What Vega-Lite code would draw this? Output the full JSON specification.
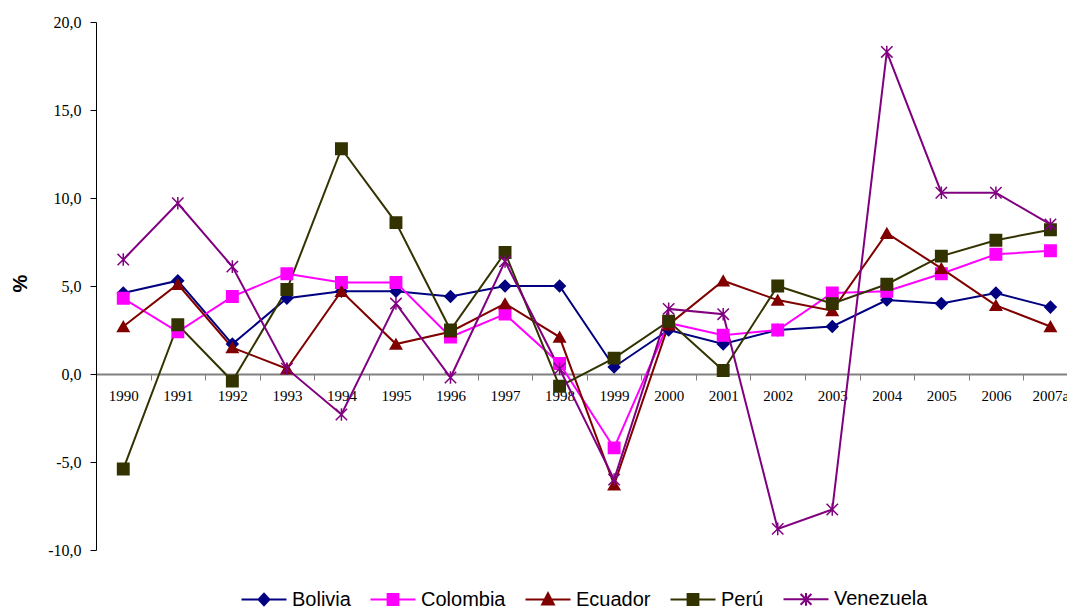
{
  "$schema": "https://vega.github.io/schema/vega-lite/v6.json",
  "width": 971,
  "height": 528,
  "autosize": {"type": "none"},
  "padding": {"left": 96, "top": 22, "right": 0, "bottom": 58},
  "background": "white",
  "config": {"view": {"stroke": null}},
  "data": {"values": [
    {"year":"1990","country":"Bolivia","value":4.6},{"year":"1991","country":"Bolivia","value":5.3},{"year":"1992","country":"Bolivia","value":1.7},{"year":"1993","country":"Bolivia","value":4.3},{"year":"1994","country":"Bolivia","value":4.7},{"year":"1995","country":"Bolivia","value":4.7},{"year":"1996","country":"Bolivia","value":4.4},{"year":"1997","country":"Bolivia","value":5.0},{"year":"1998","country":"Bolivia","value":5.0},{"year":"1999","country":"Bolivia","value":0.4},{"year":"2000","country":"Bolivia","value":2.5},{"year":"2001","country":"Bolivia","value":1.7},{"year":"2002","country":"Bolivia","value":2.5},{"year":"2003","country":"Bolivia","value":2.7},{"year":"2004","country":"Bolivia","value":4.2},{"year":"2005","country":"Bolivia","value":4.0},{"year":"2006","country":"Bolivia","value":4.6},{"year":"2007a","country":"Bolivia","value":3.8},
    {"year":"1990","country":"Colombia","value":4.3},{"year":"1991","country":"Colombia","value":2.4},{"year":"1992","country":"Colombia","value":4.4},{"year":"1993","country":"Colombia","value":5.7},{"year":"1994","country":"Colombia","value":5.2},{"year":"1995","country":"Colombia","value":5.2},{"year":"1996","country":"Colombia","value":2.1},{"year":"1997","country":"Colombia","value":3.4},{"year":"1998","country":"Colombia","value":0.6},{"year":"1999","country":"Colombia","value":-4.2},{"year":"2000","country":"Colombia","value":2.9},{"year":"2001","country":"Colombia","value":2.2},{"year":"2002","country":"Colombia","value":2.5},{"year":"2003","country":"Colombia","value":4.6},{"year":"2004","country":"Colombia","value":4.7},{"year":"2005","country":"Colombia","value":5.7},{"year":"2006","country":"Colombia","value":6.8},{"year":"2007a","country":"Colombia","value":7.0},
    {"year":"1990","country":"Ecuador","value":2.7},{"year":"1991","country":"Ecuador","value":5.1},{"year":"1992","country":"Ecuador","value":1.5},{"year":"1993","country":"Ecuador","value":0.3},{"year":"1994","country":"Ecuador","value":4.7},{"year":"1995","country":"Ecuador","value":1.7},{"year":"1996","country":"Ecuador","value":2.4},{"year":"1997","country":"Ecuador","value":4.0},{"year":"1998","country":"Ecuador","value":2.1},{"year":"1999","country":"Ecuador","value":-6.3},{"year":"2000","country":"Ecuador","value":2.8},{"year":"2001","country":"Ecuador","value":5.3},{"year":"2002","country":"Ecuador","value":4.2},{"year":"2003","country":"Ecuador","value":3.6},{"year":"2004","country":"Ecuador","value":8.0},{"year":"2005","country":"Ecuador","value":6.0},{"year":"2006","country":"Ecuador","value":3.9},{"year":"2007a","country":"Ecuador","value":2.7},
    {"year":"1990","country":"Perú","value":-5.4},{"year":"1991","country":"Perú","value":2.8},{"year":"1992","country":"Perú","value":-0.4},{"year":"1993","country":"Perú","value":4.8},{"year":"1994","country":"Perú","value":12.8},{"year":"1995","country":"Perú","value":8.6},{"year":"1996","country":"Perú","value":2.5},{"year":"1997","country":"Perú","value":6.9},{"year":"1998","country":"Perú","value":-0.7},{"year":"1999","country":"Perú","value":0.9},{"year":"2000","country":"Perú","value":3.0},{"year":"2001","country":"Perú","value":0.2},{"year":"2002","country":"Perú","value":5.0},{"year":"2003","country":"Perú","value":4.0},{"year":"2004","country":"Perú","value":5.1},{"year":"2005","country":"Perú","value":6.7},{"year":"2006","country":"Perú","value":7.6},{"year":"2007a","country":"Perú","value":8.2},
    {"year":"1990","country":"Venezuela","value":6.5},{"year":"1991","country":"Venezuela","value":9.7},{"year":"1992","country":"Venezuela","value":6.1},{"year":"1993","country":"Venezuela","value":0.3},{"year":"1994","country":"Venezuela","value":-2.3},{"year":"1995","country":"Venezuela","value":4.0},{"year":"1996","country":"Venezuela","value":-0.2},{"year":"1997","country":"Venezuela","value":6.4},{"year":"1998","country":"Venezuela","value":0.3},{"year":"1999","country":"Venezuela","value":-6.0},{"year":"2000","country":"Venezuela","value":3.7},{"year":"2001","country":"Venezuela","value":3.4},{"year":"2002","country":"Venezuela","value":-8.8},{"year":"2003","country":"Venezuela","value":-7.7},{"year":"2004","country":"Venezuela","value":18.3},{"year":"2005","country":"Venezuela","value":10.3},{"year":"2006","country":"Venezuela","value":10.3},{"year":"2007a","country":"Venezuela","value":8.5}
  ]},
  "encoding": {
    "x": {
      "field": "year", "type": "ordinal",
      "scale": {"type": "band", "range": [0, 981.7], "paddingInner": 0, "paddingOuter": 0},
      "axis": {
        "title": null, "orient": "bottom", "offset": -176,
        "labelAngle": 0, "labelFont": "Liberation Serif", "labelFontSize": 15, "labelColor": "black",
        "labelPadding": 8, "tickBand": "extent", "tickSize": 6, "tickColor": "#808080", "tickWidth": 1,
        "domainColor": "#808080", "domainWidth": 2, "grid": false
      }
    },
    "y": {
      "field": "value", "type": "quantitative",
      "scale": {"domain": [-10, 20], "nice": false, "zero": false},
      "axis": {
        "title": "%", "titleFont": "Liberation Sans", "titleFontSize": 20, "titleFontWeight": "bold",
        "titleColor": "black", "titleX": -66, "titleY": 261, "titleAngle": -90,
        "values": [-10, -5, 0, 5, 10, 15, 20],
        "labelExpr": "replace(replace(format(datum.value, '.1f'), '.', ','), '\u2212', '-')",
        "labelFont": "Liberation Serif", "labelFontSize": 16, "labelColor": "black", "labelPadding": 9,
        "tickSize": 6, "tickColor": "black", "domainColor": "black", "grid": false
      }
    },
    "color": {
      "field": "country", "type": "nominal",
      "scale": {"domain": ["Bolivia", "Colombia", "Ecuador", "Perú", "Venezuela"],
                "range": ["#000080", "#FF00FF", "#800000", "#333300", "#800080"]},
      "legend": {
        "title": null, "orient": "none", "direction": "horizontal", "legendX": 158, "legendY": 567,
        "padding": 0, "symbolSize": 324, "labelOffset": 18, "columnPadding": 15,
        "labelFont": "Liberation Sans", "labelFontSize": 20, "labelColor": "black",
        "encode": {"symbols": {"update": {
          "shape": {"signal": "datum.value === 'Bolivia' ? 'M-2.5,0L2.5,0M-0.6,0L0,-0.65L0.6,0L0,0.65Z' : datum.value === 'Colombia' ? 'M-2.5,0L2.5,0M-0.6,-0.6L0.6,-0.6L0.6,0.6L-0.6,0.6Z' : datum.value === 'Ecuador' ? 'M-2.5,0L2.5,0M0,-0.7L0.65,0.55L-0.65,0.55Z' : datum.value === 'Perú' ? 'M-2.5,0L2.5,0M-0.6,-0.6L0.6,-0.6L0.6,0.6L-0.6,0.6Z' : 'M-2.5,0L2.5,0M-0.6,-0.6L0.6,0.6M-0.6,0.6L0.6,-0.6M0,-0.7L0,0.7'"},
          "size": {"value": 324},
          "fill": {"scale": "color", "field": "value"},
          "stroke": {"scale": "color", "field": "value"},
          "strokeWidth": {"value": 2},
          "opacity": {"value": 1},
          "fillOpacity": {"value": 1},
          "strokeOpacity": {"value": 1}
        }}}
      }
    }
  },
  "layer": [
    {"mark": {"type": "line", "strokeWidth": 2}},
    {
      "mark": {
        "type": "point", "filled": true, "opacity": 1, "strokeWidth": 1.5, "size": 130,
        "shape": {"expr": "datum.country === 'Bolivia' ? 'diamond' : datum.country === 'Ecuador' ? 'triangle-up' : datum.country === 'Venezuela' ? 'M-1,-1L1,1M-1,1L1,-1M0,-1.1L0,1.1' : 'square'"},
        "stroke": {"expr": "scale('color', datum.country)"}
      }
    }
  ]
}
